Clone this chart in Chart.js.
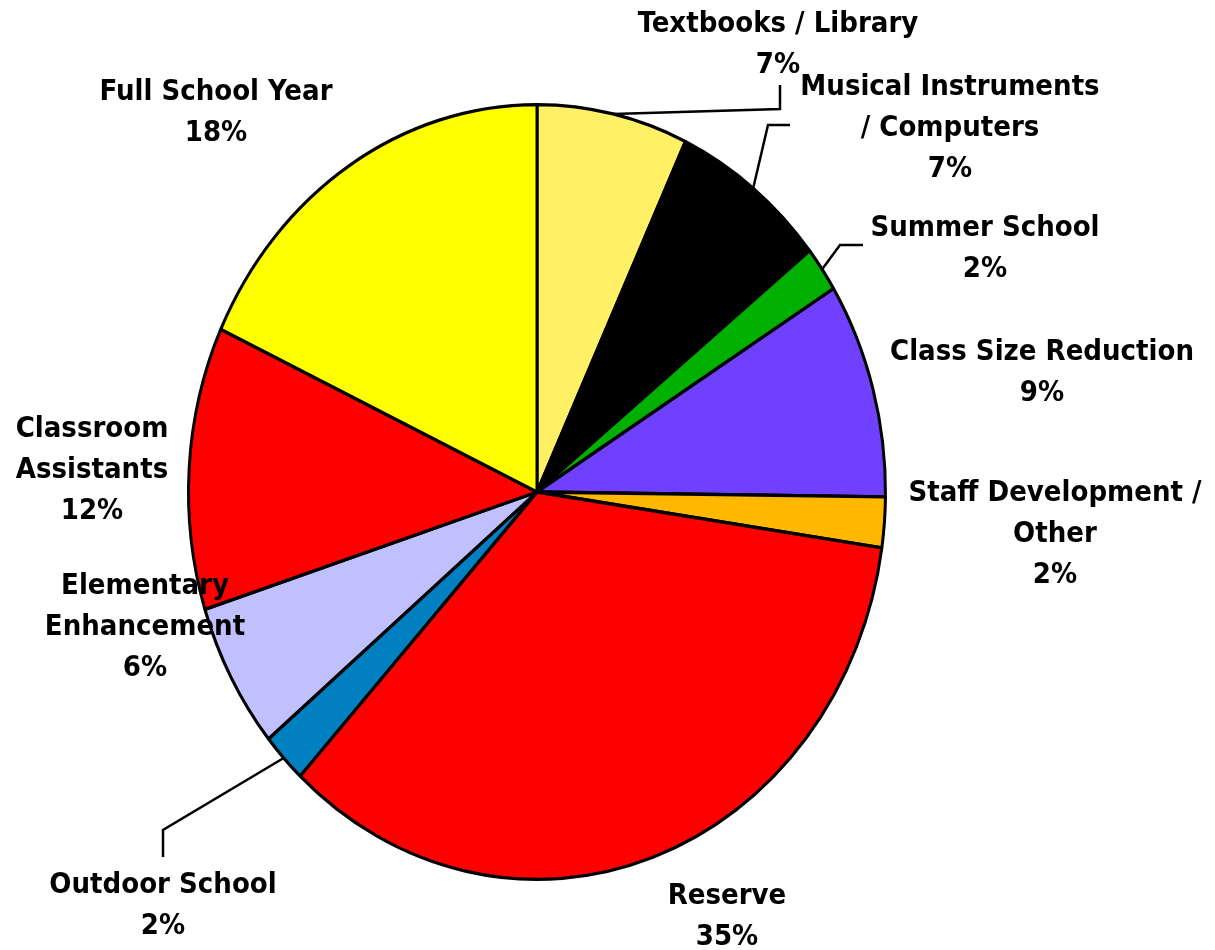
<!DOCTYPE html>
<html>
<head>
<meta charset="utf-8">
<script src="https://cdn.jsdelivr.net/npm/chart.js@4/dist/chart.umd.min.js"></script>
<style>
  html, body { margin: 0; padding: 0; background: #fff; }
  #wrap { width: 1215px; height: 950px; }
</style>
</head>
<body>
<div id="wrap"><canvas id="pie" width="1215" height="950"></canvas></div>
<script>
// slices, clockwise from 12 o'clock
const categories = [
  ["Textbooks / Library"],
  ["Musical Instruments", "/ Computers"],
  ["Summer School"],
  ["Class Size Reduction"],
  ["Staff Development /", "Other"],
  ["Reserve"],
  ["Outdoor School"],
  ["Elementary", "Enhancement"],
  ["Classroom", "Assistants"],
  ["Full School Year"]
];
const values = [7, 7.3, 1.9, 9, 2.1, 34.6, 2.1, 6.1, 11.8, 18.1];
const colors = ["#FFF066", "#000000", "#00B000", "#7040FF", "#FFB800",
                "#FF0000", "#0080C0", "#C0C0FF", "#FF0000", "#FFFF00"];

// label layout: centre of first text line, and optional leader line (elbow, end)
const labelPos = [
  [778, 24], [950, 87], [985, 228], [1042, 352], [1055, 493],
  [727, 896], [163, 885], [145, 586], [92, 429], [216, 92]
];
const leaders = {
  0: [[780, 109], [780, 85]],
  1: [[768, 125], [790, 125]],
  2: [[840, 245], [863, 245]],
  6: [[163, 830], [163, 857]]
};

const stretchY = 389 / 350; // the pie is drawn as a slightly tall ellipse
const lineGap = 41;

const stretch = {
  id: "stretch",
  beforeDatasetsDraw(chart) {
    const arc = chart.getDatasetMeta(0).data[0];
    const ctx = chart.ctx;
    ctx.save();
    ctx.translate(arc.x, arc.y);
    ctx.scale(1, stretchY);
    ctx.translate(-arc.x, -arc.y);
  },
  afterDatasetsDraw(chart) {
    chart.ctx.restore();
  }
};

const outsideLabels = {
  id: "outsideLabels",
  afterDraw(chart) {
    const ctx = chart.ctx;
    const meta = chart.getDatasetMeta(0);
    const total = values.reduce((a, b) => a + b, 0);
    ctx.save();
    // leader lines
    ctx.strokeStyle = "#000";
    ctx.lineWidth = 2.5;
    Object.keys(leaders).forEach(k => {
      const a = meta.data[k];
      const mid = (a.startAngle + a.endAngle) / 2;
      const sx = a.x + Math.cos(mid) * a.outerRadius;
      const sy = a.y + Math.sin(mid) * a.outerRadius * stretchY;
      const pts = leaders[k];
      ctx.beginPath();
      ctx.moveTo(sx, sy);
      ctx.lineTo(pts[0][0], pts[0][1]);
      ctx.lineTo(pts[1][0], pts[1][1]);
      ctx.stroke();
    });
    // text
    ctx.fillStyle = "#000";
    ctx.font = "bold 29px 'DejaVu Sans Condensed', 'DejaVu Sans', sans-serif";
    ctx.textAlign = "center";
    ctx.textBaseline = "middle";
    categories.forEach((lines, i) => {
      const [x, y] = labelPos[i];
      const pct = Math.round(values[i] / total * 100) + "%";
      lines.concat([pct]).forEach((t, j) => ctx.fillText(t, x, y + j * lineGap));
    });
    ctx.restore();
  }
};

new Chart(document.getElementById("pie").getContext("2d"), {
  type: "pie",
  data: {
    labels: categories,
    datasets: [{
      data: values,
      backgroundColor: colors,
      borderColor: "#000",
      borderWidth: 3
    }]
  },
  plugins: [stretch, outsideLabels],
  options: {
    responsive: false,
    animation: false,
    events: [],
    layout: { padding: { left: 187, right: 328, top: 142, bottom: 108 } },
    plugins: {
      legend: { display: false },
      tooltip: { enabled: false }
    }
  }
});
</script>
</body>
</html>
